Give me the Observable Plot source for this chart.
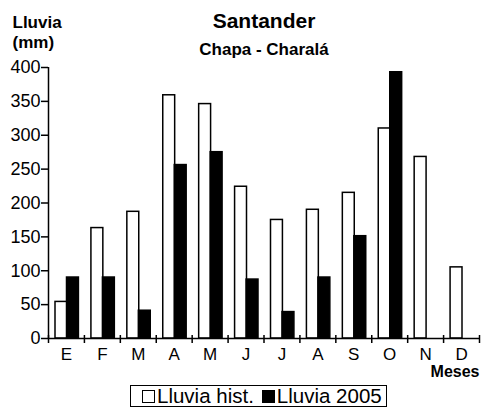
<!DOCTYPE html>
<html>
<head>
<meta charset="utf-8">
<script src="https://cdn.jsdelivr.net/npm/d3@7"></script>
<script src="https://cdn.jsdelivr.net/npm/@observablehq/plot@0.6"></script>
<style>
  body { margin: 0; background: white; }
  #wrap { position: relative; width: 481px; height: 410px; font-family: "Liberation Sans", Arial, sans-serif; }
  #legend { position: absolute; left: 130px; top: 385px; width: 257px; height: 22px; border: 1.5px solid black; box-sizing: border-box;
            display: flex; align-items: center; font-size: 20.5px; white-space: nowrap; padding-left: 11px; line-height: 1; }
  .sw { display: inline-block; width: 13px; height: 13px; border: 1.5px solid black; box-sizing: border-box; margin-right: 2px; }
</style>
</head>
<body>
<div id="wrap"></div>
<script>
const months = ["E","F","M","A","M","J","J","A","S","O","N","D"];
const hist = [54, 163, 187, 359, 346, 224, 175, 190, 215, 310, 268, 105];
const lluvia2005 = [90, 90, 41, 256, 275, 87, 39, 90, 151, 393, null, null];
const yTicks = [0, 50, 100, 150, 200, 250, 300, 350, 400];
const seriesNames = ["Lluvia hist.", "Lluvia 2005"];
const seriesFills = ["white", "black"];
const title = "Santander";
const subtitle = "Chapa - Charalá";
const yLabel = ["Lluvia", "(mm)"];
const xLabel = "Meses";

const idx = d3.range(months.length);
const histData = idx.map(i => ({i, v: hist[i]}));
const data05 = idx.filter(i => lluvia2005[i] != null).map(i => ({i, v: lluvia2005[i]}));

const chart = Plot.plot({
  width: 481, height: 380,
  marginTop: 67, marginBottom: 42, marginLeft: 48, marginRight: 2,
  x: {type: "linear", domain: [0, months.length]},
  y: {domain: [0, 400]},
  style: {fontFamily: "'Liberation Sans', Arial, sans-serif", color: "black", background: "white", overflow: "visible"},
  marks: [
    Plot.rectY(histData, {x1: "i", x2: d => d.i + 1, y1: 0, y2: "v", fill: seriesFills[0], stroke: "black", strokeWidth: 1.5, insetLeft: 7, insetRight: 17}),
    Plot.rectY(data05, {x1: "i", x2: d => d.i + 1, y1: 0, y2: "v", fill: seriesFills[1], stroke: "black", strokeWidth: 1.5, insetLeft: 18.5, insetRight: 5.5}),
    Plot.axisY({ticks: yTicks, tickSize: 7, tickPadding: 1, fontSize: 18, label: null, strokeWidth: 1.5}),
    Plot.axisX({ticks: d3.range(months.length + 1), tickSize: 8, dy: -3, tickFormat: () => "", label: null, strokeWidth: 1.5}),
    Plot.axisX({ticks: idx.map(i => i + 0.5), tickSize: 0, tickPadding: 9, fontSize: 17, label: null, tickFormat: t => months[Math.floor(t)]}),
    Plot.ruleX([0], {strokeWidth: 1.5}),
    Plot.ruleY([0], {strokeWidth: 1.5}),
    Plot.text([title], {frameAnchor: "top", dy: -40, lineAnchor: "bottom", fontSize: 21, fontWeight: "bold"}),
    Plot.text([subtitle], {frameAnchor: "top", dy: -13, lineAnchor: "bottom", fontSize: 17, fontWeight: "bold"}),
    Plot.text([yLabel[0]], {frameAnchor: "top-left", dx: -36, dy: -40, lineAnchor: "bottom", textAnchor: "start", fontSize: 17, fontWeight: "bold"}),
    Plot.text([yLabel[1]], {frameAnchor: "top-left", dx: -36, dy: -20, lineAnchor: "bottom", textAnchor: "start", fontSize: 17, fontWeight: "bold"}),
    Plot.text([xLabel], {frameAnchor: "bottom-right", dy: 38, lineAnchor: "bottom", textAnchor: "end", fontSize: 16, fontWeight: "bold"})
  ]
});
const wrap = document.getElementById("wrap");
wrap.appendChild(chart);

const legend = document.createElement("div");
legend.id = "legend";
seriesNames.forEach((name, k) => {
  const sw = document.createElement("span");
  sw.className = "sw";
  sw.style.background = seriesFills[k];
  if (k > 0) sw.style.marginLeft = "8px";
  legend.appendChild(sw);
  const t = document.createElement("span");
  t.textContent = name;
  legend.appendChild(t);
});
wrap.appendChild(legend);
</script>
</body>
</html>
